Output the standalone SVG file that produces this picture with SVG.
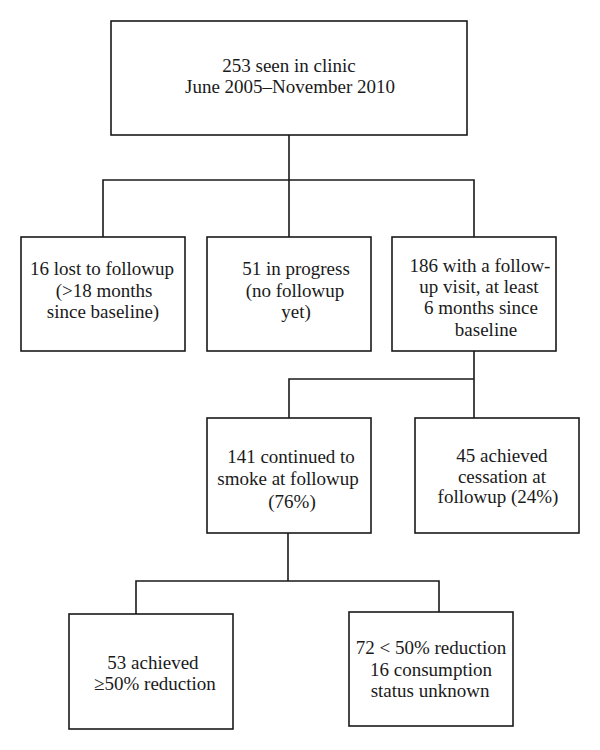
<svg xmlns="http://www.w3.org/2000/svg" width="600" height="750" viewBox="0 0 600 750">
<style>
.box{fill:#fff;stroke:#1a1a1a;stroke-width:1.6}
.con{fill:none;stroke:#1a1a1a;stroke-width:1.6}
.t{font-family:'Liberation Serif','Tinos','Times New Roman','DejaVu Serif',serif;font-size:19px;fill:#1a1a1a;text-anchor:middle}
</style>
<rect width="600" height="750" fill="#fff"/>
<g id="connectors">
<path class="con" d="M289,135 V180 M103,237 V180 H474 V237 M289,180 V237"/>
<path class="con" d="M474,351 V379 H289 V418 M474,379 V418"/>
<path class="con" d="M288,533 V581 H136 V614 M288,581 H439 V612"/>
</g>
<g id="n0" class="t">
<rect class="box" x="111" y="21" width="356" height="114"/>
<text x="289" y="72">253 seen in clinic</text>
<text x="290" y="93">June 2005–November 2010</text>
</g>
<g id="n1" class="t">
<rect class="box" x="21" y="237" width="164" height="114"/>
<text x="102" y="275">16 lost to followup</text>
<text x="104" y="297">(&gt;18 months</text>
<text x="103" y="318">since baseline)</text>
</g>
<g id="n2" class="t">
<rect class="box" x="207" y="237" width="164" height="114"/>
<text x="296" y="275">51 in progress</text>
<text x="295" y="297">(no followup</text>
<text x="296" y="318">yet)</text>
</g>
<g id="n3" class="t">
<rect class="box" x="392" y="237" width="164" height="114"/>
<text x="480" y="272">186 with a follow-</text>
<text x="479" y="293">up visit, at least</text>
<text x="481" y="314">6 months since</text>
<text x="486" y="336">baseline</text>
</g>
<g id="n4" class="t">
<rect class="box" x="207" y="418" width="164" height="115"/>
<text x="291" y="463">141 continued to</text>
<text x="288" y="485">smoke at followup</text>
<text x="292" y="508">(76%)</text>
</g>
<g id="n5" class="t">
<rect class="box" x="415" y="418" width="164" height="115"/>
<text x="502" y="462">45 achieved</text>
<text x="502" y="483">cessation at</text>
<text x="498" y="503">followup (24%)</text>
</g>
<g id="n6" class="t">
<rect class="box" x="69" y="614" width="164" height="115"/>
<text x="153" y="669">53 achieved</text>
<text x="155" y="690">≥50% reduction</text>
</g>
<g id="n7" class="t">
<rect class="box" x="349" y="612" width="164" height="114"/>
<text x="431" y="654">72 &lt; 50% reduction</text>
<text x="431" y="676">16 consumption</text>
<text x="430" y="697">status unknown</text>
</g>
</svg>
